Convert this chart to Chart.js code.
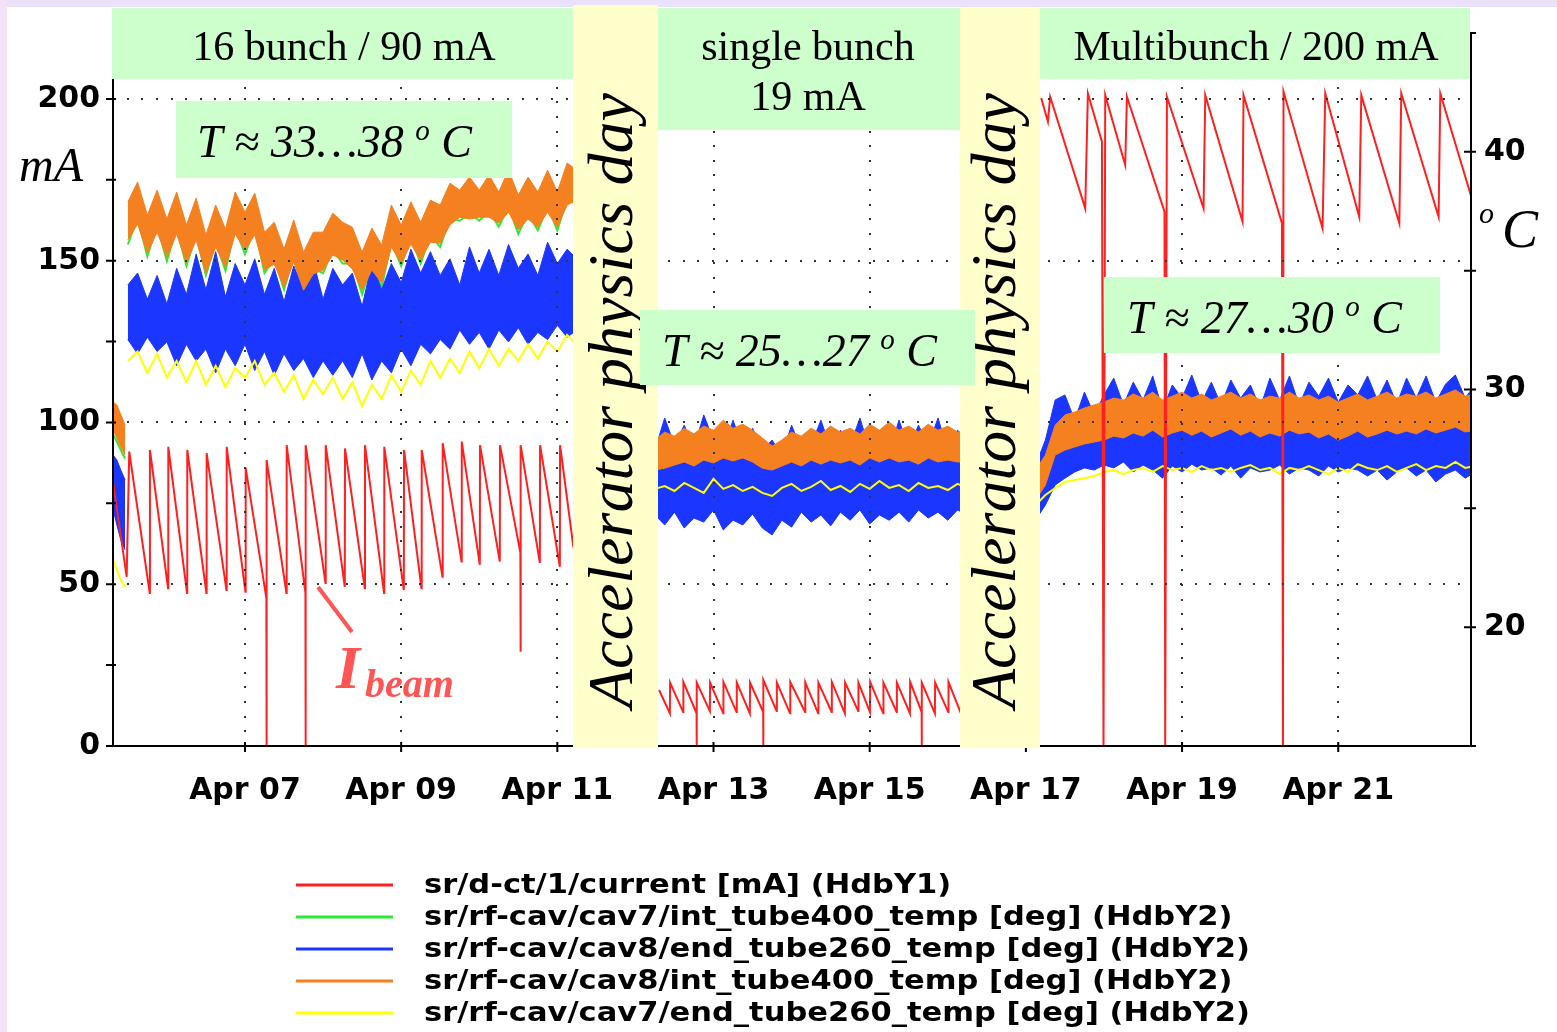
<!DOCTYPE html>
<html><head><meta charset="utf-8">
<script src="https://cdn.jsdelivr.net/npm/chart.js@4.4.1/dist/chart.umd.min.js"></script>
<style>html,body{margin:0;padding:0;background:#fff;overflow:hidden}canvas{display:block}</style>
</head><body><canvas id="c" width="1557" height="1032"></canvas>
<script>
// ---------------- DATA ----------------
const xTickDays = [7, 9, 11, 13, 15, 17, 19, 21];
const xTickLabels = ['Apr 07', 'Apr 09', 'Apr 11', 'Apr 13', 'Apr 15', 'Apr 17', 'Apr 19', 'Apr 21'];
const leftTicks = [0, 25, 50, 75, 100, 125, 150, 175, 200];
const rightTicks = [15, 20, 25, 30, 35, 40, 45];
const legendLabels = [
  'sr/d-ct/1/current [mA] (HdbY1)',
  'sr/rf-cav/cav7/int_tube400_temp [deg] (HdbY2)',
  'sr/rf-cav/cav8/end_tube260_temp [deg] (HdbY2)',
  'sr/rf-cav/cav8/int_tube400_temp [deg] (HdbY2)',
  'sr/rf-cav/cav7/end_tube260_temp [deg] (HdbY2)'
];
const seriesColors = ['#ff2020', '#33e633', '#1b36ff', '#f5801f', '#ffff00'];

// beam current (mA), time in days of April
const redT1 = [5.313,5.485,5.518,5.780,5.783,6.015,6.018,6.258,6.261,6.506,6.509,6.763,6.766,7.006,7.009,7.274,7.276,7.278,7.531,7.534,7.774,7.776,7.778,8.031,8.034,8.278,8.281,8.534,8.537,8.781,8.784,9.034,9.037,9.260,9.263,9.529,9.532,9.773,9.776,10.007,10.010,10.263,10.266,10.527,10.529,10.531,10.776,10.779,11.032,11.035,11.205,11.26];
const redMA1 = [81.2,52.3,91.0,47.3,91.5,48.8,92.5,47.3,91.5,47.3,90.5,48.2,92.5,47.7,86.0,45.7,0,88.4,47.3,93.0,47.3,0,93.0,50.4,93.0,49.2,92.0,48.8,93.0,47.3,92.5,48.2,91.5,48.8,91.5,52.3,93.6,57.0,94.1,56.0,93.0,57.0,93.0,59.7,29.1,93.0,56.6,93.0,55.4,93.0,61.6,58.5];
const redT2 = [12.303,12.441,12.444,12.611,12.614,12.783,12.784,12.786,12.953,12.956,13.124,13.127,13.295,13.298,13.465,13.468,13.636,13.637,13.639,13.808,13.811,13.980,13.983,14.172,14.175,14.340,14.343,14.512,14.515,14.682,14.685,14.853,14.856,15.003,15.006,15.173,15.176,15.345,15.348,15.515,15.518,15.665,15.666,15.668,15.835,15.838,16.006,16.009,16.168,16.171,16.25];
const redMA2 = [17.3,10.1,19.6,10.5,19.8,10.1,0,19.6,10.8,19.6,10.1,19.8,10.5,19.6,10.1,19.6,10.5,0,20.4,10.8,19.6,10.1,19.8,10.5,19.6,10.1,19.6,10.5,19.8,10.1,19.6,10.8,19.6,10.5,19.8,10.1,19.6,10.5,19.6,10.1,19.8,10.5,0,19.6,10.1,19.6,10.5,19.8,10.1,19.6,15.0];
const redT3 = [17.196,17.282,17.311,17.760,17.794,17.974,17.994,18.016,18.272,18.294,18.775,18.784,18.806,19.275,19.297,19.774,19.787,20.279,20.292,20.299,20.799,20.834,21.269,21.295,21.782,21.807,22.285,22.307,22.72];
const redMA3 = [200.3,193.0,200.7,166.2,201.7,186.8,0,201.2,179.6,200.7,165.2,0,200.7,166.2,201.2,162.1,201.2,161.6,0,202.3,160.0,201.7,163.6,201.2,161.6,201.7,163.6,201.7,168.5];

// temperatures (deg C) - A: start, B: 16 bunch, C: single bunch, D: multibunch
const tA = [5.313, 5.36, 5.41, 5.465];
const greenA = [28.1, 27.8, 27.45, 27.1];
const orangeHiA = [29.47, 29.35, 28.93, 28.50];
const orangeLoA = [28.29, 27.96, 27.58, 27.24];
const blueHiA = [27.24, 27.03, 26.61, 26.19];
const blueLoA = [24.93, 24.30, 23.67, 23.25];
const yellowA = [22.82, 22.40, 21.98, 21.69];

const tB = [5.5,5.625,5.75,5.875,6,6.125,6.25,6.375,6.5,6.625,6.75,6.875,7,7.125,7.25,7.375,7.5,7.625,7.75,7.875,8,8.125,8.25,8.375,8.5,8.625,8.75,8.875,9,9.125,9.25,9.375,9.5,9.625,9.75,9.875,10,10.125,10.25,10.375,10.5,10.625,10.75,10.875,11,11.125,11.25];
const greenB = [36.1,37.2,35.6,36.9,35.4,36.8,35.2,36.5,34.8,36.2,35.0,36.8,35.7,36.8,34.9,35.5,34.2,35.6,34.0,35.1,34.9,35.9,35.3,35.3,34.0,35.3,34.3,36.2,35.2,36.4,35.3,36.5,36.0,37.2,37.1,37.4,37.1,37.5,36.85,37.7,36.55,37.4,36.7,37.7,36.7,38.0,37.8];
const orangeHiB = [37.89,38.73,37.34,38.39,37.17,38.31,36.92,38.05,36.5,37.76,36.75,38.31,37.46,38.26,36.62,37.04,35.91,37.13,35.78,36.62,36.62,37.42,37.04,36.83,35.78,36.79,36.08,37.76,36.92,37.89,37.04,37.97,37.76,38.68,38.39,38.94,38.39,39.02,38.31,39.23,38.18,38.94,38.31,39.23,38.31,39.53,39.23];
const orangeLoB = [36.29,36.96,35.74,36.62,35.57,36.54,35.32,36.29,34.9,35.99,35.15,36.54,35.87,36.5,35.03,35.28,34.31,35.36,34.18,34.86,35.03,35.66,35.45,35.07,34.18,35.03,34.48,35.99,35.32,36.12,35.45,36.2,36.16,36.92,37.25,37.17,37.25,37.25,37.0,37.46,36.71,37.17,36.83,37.46,36.83,37.76,37.97];
const blueHiB = [34.4,34.9,33.8,34.8,33.6,35.1,34.0,35.7,34.2,35.8,33.9,35.3,34.4,35.5,34.0,35.1,33.7,35.2,34.2,35.4,33.8,35.1,34.4,34.9,33.5,35.3,34.2,35.3,34.5,35.9,34.9,35.8,34.8,35.5,34.4,36.0,34.9,35.9,34.8,36.1,35.1,35.7,34.8,36.2,35.3,35.9,35.5];
const blueLoB = [32.1,31.5,32.2,31.6,32.0,31.0,31.9,31.2,31.7,30.7,31.7,31.0,31.9,30.8,31.6,30.6,31.5,30.8,31.3,30.5,31.2,30.6,31.2,30.5,31.5,30.4,31.2,30.7,31.7,31.0,31.9,31.5,32.1,31.7,32.5,31.9,32.4,31.7,32.5,32.0,32.6,31.9,32.4,32.1,32.7,32.2,32.5];
const yellowB = [31.2,31.6,30.7,31.5,30.5,31.2,30.3,31.2,30.2,31.0,30.1,30.9,30.5,31.2,30.2,30.7,29.9,30.6,29.6,30.4,29.8,30.5,29.6,30.3,29.3,30.2,29.6,30.6,29.9,30.8,30.2,31.2,30.5,31.3,30.7,31.6,30.9,31.7,31.0,31.7,31.2,31.9,31.3,32.0,31.6,32.3,31.9];

const tC = [12.25,12.375,12.5,12.625,12.75,12.875,13,13.125,13.25,13.375,13.5,13.625,13.75,13.875,14,14.125,14.25,14.375,14.5,14.625,14.75,14.875,15,15.125,15.25,15.375,15.5,15.625,15.75,15.875,16,16.125,16.25];
const greenC = [27.0,27.1,27.2,27.1,27.0,27.2,27.1,27.3,27.1,27.2,27.0,26.9,26.8,27.0,27.1,27.0,27.2,27.0,27.2,27.1,27.2,27.0,27.3,27.1,27.3,27.1,27.2,27.0,27.3,27.1,27.2,27.1,27.1];
const orangeHiC = [27.87,28.21,28.04,28.37,28.13,28.46,28.29,28.71,28.37,28.54,28.29,27.96,27.62,27.87,28.21,28.04,28.37,28.13,28.46,28.21,28.37,28.13,28.54,28.29,28.63,28.29,28.46,28.21,28.54,28.29,28.46,28.21,28.29];
const orangeLoC = [26.61,26.69,26.82,26.95,26.78,27.03,26.91,27.12,26.99,27.12,26.95,26.69,26.61,26.78,26.95,26.78,27.03,26.86,27.03,26.91,27.03,26.82,27.12,26.95,27.12,26.95,27.03,26.86,27.12,26.95,27.03,26.95,26.95];
const blueHiC = [27.45,28.80,27.66,28.50,27.54,28.93,27.87,27.45,28.71,27.54,28.37,27.45,27.87,27.24,28.50,27.45,27.66,28.71,27.54,28.29,27.66,28.80,27.45,27.87,27.37,28.71,27.54,28.50,27.66,28.80,27.45,28.29,27.87];
const blueLoC = [24.72,24.30,24.84,24.17,24.59,24.42,24.93,24.09,24.50,24.30,24.76,24.17,23.88,24.50,24.21,24.84,24.42,24.72,24.26,24.84,24.50,24.93,24.34,24.72,24.50,24.84,24.42,24.93,24.59,24.84,24.50,24.93,24.72];
const yellowC = [25.82,25.94,25.73,26.07,25.86,25.65,26.24,25.82,25.98,25.73,25.90,25.65,25.52,25.86,26.03,25.73,25.90,26.15,25.77,25.94,25.69,26.03,25.82,26.15,25.86,25.98,25.73,26.07,25.86,25.94,25.77,26.03,25.86];

const tD = [17.125,17.25,17.375,17.5,17.625,17.75,17.875,18,18.125,18.25,18.375,18.5,18.625,18.75,18.875,19,19.125,19.25,19.375,19.5,19.625,19.75,19.875,20,20.125,20.25,20.375,20.5,20.625,20.75,20.875,21,21.125,21.25,21.375,21.5,21.625,21.75,21.875,22,22.125,22.25,22.375,22.5,22.625,22.75];
const greenD = [25.5,26.1,27.4,27.6,27.7,27.85,27.9,28.0,28.2,28.1,28.3,28.2,28.4,28.15,28.3,28.4,28.2,28.4,28.15,28.3,28.5,28.2,28.4,28.15,28.3,28.2,28.4,28.3,28.35,28.1,28.3,28.0,28.2,28.4,28.15,28.3,28.4,28.3,28.4,28.3,28.5,28.3,28.4,28.55,28.35,28.4];
const orangeHiD = [26.61,27.24,28.50,28.93,29.05,29.22,29.35,29.47,29.64,29.56,29.81,29.64,29.89,29.56,29.72,29.89,29.64,29.81,29.56,29.72,29.89,29.64,29.81,29.56,29.72,29.64,29.89,29.64,29.77,29.56,29.72,29.47,29.64,29.81,29.56,29.72,29.89,29.64,29.81,29.72,29.89,29.64,29.81,29.98,29.72,29.81];
const orangeLoD = [25.35,25.98,27.24,27.45,27.58,27.71,27.79,27.87,28.04,27.96,28.17,28.04,28.29,28.00,28.17,28.29,28.08,28.25,28.00,28.17,28.34,28.08,28.25,28.00,28.17,28.04,28.29,28.13,28.21,27.96,28.13,27.87,28.04,28.25,28.00,28.13,28.29,28.13,28.25,28.13,28.34,28.17,28.29,28.42,28.21,28.29];
const blueHiD = [26.82,27.87,29.56,29.77,28.71,29.89,28.93,29.77,30.48,29.35,30.31,29.56,30.57,29.14,30.19,29.64,30.61,29.47,30.31,29.35,30.40,29.64,30.19,29.22,30.48,29.56,30.57,29.35,30.31,29.72,30.48,29.47,30.19,29.77,30.57,29.56,30.40,29.39,30.48,29.64,30.57,29.47,30.23,30.61,29.64,30.19];
const blueLoD = [24.51,25.14,25.98,26.27,26.53,26.70,26.61,26.82,26.70,26.95,26.53,26.82,26.61,26.27,26.78,26.53,26.86,26.61,26.70,26.40,26.78,26.27,26.70,26.53,26.61,26.82,26.44,26.70,26.61,26.36,26.78,26.53,26.70,26.61,26.36,26.61,26.19,26.53,26.70,26.36,26.61,26.11,26.44,26.61,26.27,26.53];
const yellowD = [25.14,25.56,25.85,26.11,26.19,26.27,26.36,26.53,26.61,26.44,26.61,26.70,26.53,26.78,26.61,26.70,26.53,26.78,26.61,26.70,26.53,26.70,26.82,26.61,26.70,26.44,26.70,26.61,26.78,26.61,26.44,26.70,26.53,26.86,26.70,26.61,26.78,26.53,26.70,26.86,26.61,26.78,26.70,26.95,26.70,26.78];

// ---------------- BUILD ----------------
const W = 1557, H = 1032;
const SERIF = '"Liberation Serif", "Times New Roman", serif';
const SANS = '"DejaVu Sans", sans-serif';
const [cRed, cGreen, cBlue, cOrange, cYellow] = seriesColors;

const datasets = [];
const P = (t, v) => t.map((x, i) => ({ x: x, y: v[i] }));
function addLine(t, v, color, width, order, axis) {
  datasets.push({ data: P(t, v), borderColor: color, backgroundColor: color, borderWidth: width,
    pointRadius: 0, fill: false, order: order, yAxisID: axis, tension: 0 });
}
function addBand(t, hi, lo, color, order) {
  const i = datasets.length;
  datasets.push({ data: P(t, hi), borderColor: color, backgroundColor: color, borderWidth: 1,
    pointRadius: 0, fill: i + 1, order: order, yAxisID: 'y2', tension: 0 });
  datasets.push({ data: P(t, lo), borderColor: color, backgroundColor: color, borderWidth: 1,
    pointRadius: 0, fill: false, order: order, yAxisID: 'y2', tension: 0 });
}
const tempSegments = [
  [tA, greenA, blueHiA, blueLoA, orangeHiA, orangeLoA, yellowA],
  [tB, greenB, blueHiB, blueLoB, orangeHiB, orangeLoB, yellowB],
  [tC, greenC, blueHiC, blueLoC, orangeHiC, orangeLoC, yellowC],
  [tD, greenD, blueHiD, blueLoD, orangeHiD, orangeLoD, yellowD]
];
tempSegments.forEach(([t, g, bh, bl, oh, ol, y]) => {
  addLine(t, g, cGreen, 2, 4, 'y2');
  addBand(t, bh, bl, cBlue, 3);
  addBand(t, oh, ol, cOrange, 2);
  addLine(t, y, cYellow, 2, 1, 'y2');
});
[[redT1, redMA1], [redT2, redMA2], [redT3, redMA3]].forEach(([t, v]) => addLine(t, v, cRed, 2, 0, 'y'));

function richT(c, x, base, main, sup, tail, size) {
  c.textAlign = 'left';
  c.font = 'italic ' + size + 'px ' + SERIF;
  c.fillText(main, x, base);
  let w = c.measureText(main).width;
  c.font = 'italic ' + Math.round(size * 0.62) + 'px ' + SERIF;
  c.fillText(sup, x + w, base - size * 0.36);
  w += c.measureText(sup).width;
  c.font = 'italic ' + size + 'px ' + SERIF;
  c.fillText(tail, x + w, base);
}

const deco = {
  id: 'deco',
  beforeDraw(chart) {
    const c = chart.ctx; c.save();
    c.fillStyle = '#fff'; c.fillRect(0, 0, W, H);
    c.fillStyle = '#ece1fb'; c.fillRect(0, 0, W, 7);
    c.fillStyle = '#f3e2f7'; c.fillRect(0, 0, 7, H);
    c.restore();
  },
  afterDatasetsDraw(chart) {
    const c = chart.ctx, a = chart.chartArea;
    const sx = chart.scales.x, sy = chart.scales.y, sr = chart.scales.y2;
    c.save();
    c.fillStyle = '#333';
    const step = 14.63;
    xTickDays.forEach(d => {
      const px = Math.round(sx.getPixelForValue(d));
      for (let y = a.bottom - step; y > a.top + 2; y -= step) c.fillRect(px - 1, Math.round(y) - 1, 2, 2);
    });
    leftTicks.filter(v => v > 0 && v % 50 === 0).forEach(v => {
      const py = Math.round(sy.getPixelForValue(v));
      for (let x = a.left + step; x < a.right - 2; x += step) c.fillRect(Math.round(x) - 1, py - 1, 2, 2);
    });
    c.strokeStyle = '#000'; c.lineWidth = 2;
    c.beginPath();
    c.moveTo(a.left, a.top); c.lineTo(a.left, a.bottom); c.lineTo(a.right, a.bottom); c.lineTo(a.right, a.top);
    c.stroke();
    c.beginPath();
    leftTicks.forEach(v => { const py = sy.getPixelForValue(v); c.moveTo(a.left - 7, py); c.lineTo(a.left + 3, py); });
    rightTicks.forEach(v => { const py = sr.getPixelForValue(v); c.moveTo(a.right - 7, py); c.lineTo(a.right + 5, py); });
    xTickDays.forEach(d => { const px = sx.getPixelForValue(d); c.moveTo(px, a.bottom - 4); c.lineTo(px, a.bottom + 6); });
    c.stroke();
    c.restore();
  },
  afterDraw(chart) {
    const c = chart.ctx; c.save();
    // accelerator physics day bands
    c.fillStyle = '#ffffcc';
    c.fillRect(573, 5, 85, 743);
    c.fillRect(960, 8, 80, 740);
    c.fillStyle = '#000';
    c.font = 'italic 64px ' + SERIF; c.textAlign = 'left'; c.textBaseline = 'alphabetic';
    [[632, 708], [1015, 708]].forEach(([x, y]) => {
      c.save(); c.translate(x, y); c.rotate(-Math.PI / 2);
      c.fillText('Accelerator physics day', 0, 0); c.restore();
    });
    // mode boxes
    c.fillStyle = '#ccffcc';
    c.fillRect(112, 8, 461, 71);
    c.fillRect(658, 8, 302, 122);
    c.fillRect(1040, 8, 430, 71);
    c.fillRect(176, 101, 336, 77);
    c.fillRect(640, 310, 335, 75);
    c.fillRect(1104, 277, 336, 76);
    c.fillStyle = '#000'; c.textAlign = 'center';
    c.font = '42px ' + SERIF;
    c.fillText('16 bunch / 90 mA', 344, 60);
    c.fillText('single bunch', 808, 60);
    c.fillText('19 mA', 808, 110);
    c.fillText('Multibunch / 200 mA', 1256, 60);
    richT(c, 197, 157, 'T \u2248 33\u202638 ', 'o', ' C', 46);
    richT(c, 662, 366, 'T \u2248 25\u202627 ', 'o', ' C', 46);
    richT(c, 1127, 333, 'T \u2248 27\u202630 ', 'o', ' C', 46);
    // axis unit labels
    c.textAlign = 'left';
    c.font = 'italic 48px ' + SERIF; c.fillText('mA', 19, 181);
    c.font = 'italic 30px ' + SERIF; c.fillText('o', 1479, 223);
    c.font = 'italic 54px ' + SERIF; c.fillText('C', 1502, 247);
    // I beam
    c.fillStyle = '#ff5555'; c.strokeStyle = '#ff5555'; c.lineWidth = 4;
    c.beginPath(); c.moveTo(318, 587); c.lineTo(352, 632); c.stroke();
    c.font = 'bold italic 62px ' + SERIF; c.fillText('I', 336, 688);
    c.font = 'bold italic 40px ' + SERIF; c.fillText('beam', 365, 697);
    // legend
    c.font = 'bold 26px ' + SANS;
    const longest = Math.max(...legendLabels.map(s => c.measureText(s).width));
    const sxl = 826 / longest;
    legendLabels.forEach((s, i) => {
      const y = 885 + i * 32;
      c.strokeStyle = seriesColors[i]; c.lineWidth = 3;
      c.beginPath(); c.moveTo(296, y); c.lineTo(393, y); c.stroke();
      c.save(); c.translate(424, y); c.scale(sxl, 1);
      c.fillStyle = '#000'; c.textAlign = 'left'; c.textBaseline = 'middle';
      c.fillText(s, 0, 1); c.restore();
    });
    c.restore();
  }
};

const tickFont = { family: SANS, weight: 'bold', size: 30 };
new Chart(document.getElementById('c'), {
  type: 'line',
  data: { datasets: datasets },
  options: {
    responsive: false, animation: false, devicePixelRatio: 1,
    layout: { padding: { top: 33, left: 0, right: 0, bottom: 0 } },
    plugins: { legend: { display: false }, tooltip: { enabled: false } },
    elements: { point: { radius: 0 }, line: { tension: 0 } },
    scales: {
      x: {
        type: 'linear', min: 5.31, max: 22.70,
        grid: { display: false, drawTicks: false }, border: { display: false },
        afterBuildTicks: s => { s.ticks = xTickDays.map(v => ({ value: v })); },
        ticks: { callback: (v, i) => xTickLabels[i], font: tickFont, color: '#000', padding: 27, maxRotation: 0, autoSkip: false },
        afterFit: s => { s.height = 286; }
      },
      y: {
        position: 'left', min: 0, max: 220.4,
        grid: { display: false, drawTicks: false }, border: { display: false },
        afterBuildTicks: s => { s.ticks = leftTicks.map(v => ({ value: v })); },
        ticks: { callback: v => (v % 50 === 0 ? String(v) : ''), font: tickFont, color: '#000', padding: 13, autoSkip: false },
        afterFit: s => { s.width = 113; }
      },
      y2: {
        position: 'right', min: 15, max: 45,
        grid: { display: false, drawTicks: false }, border: { display: false },
        afterBuildTicks: s => { s.ticks = rightTicks.map(v => ({ value: v })); },
        ticks: { callback: v => (v % 10 === 0 ? String(v) : ''), font: tickFont, color: '#000', padding: 13, autoSkip: false },
        afterFit: s => { s.width = 86; }
      }
    }
  },
  plugins: [deco]
});
</script></body></html>
